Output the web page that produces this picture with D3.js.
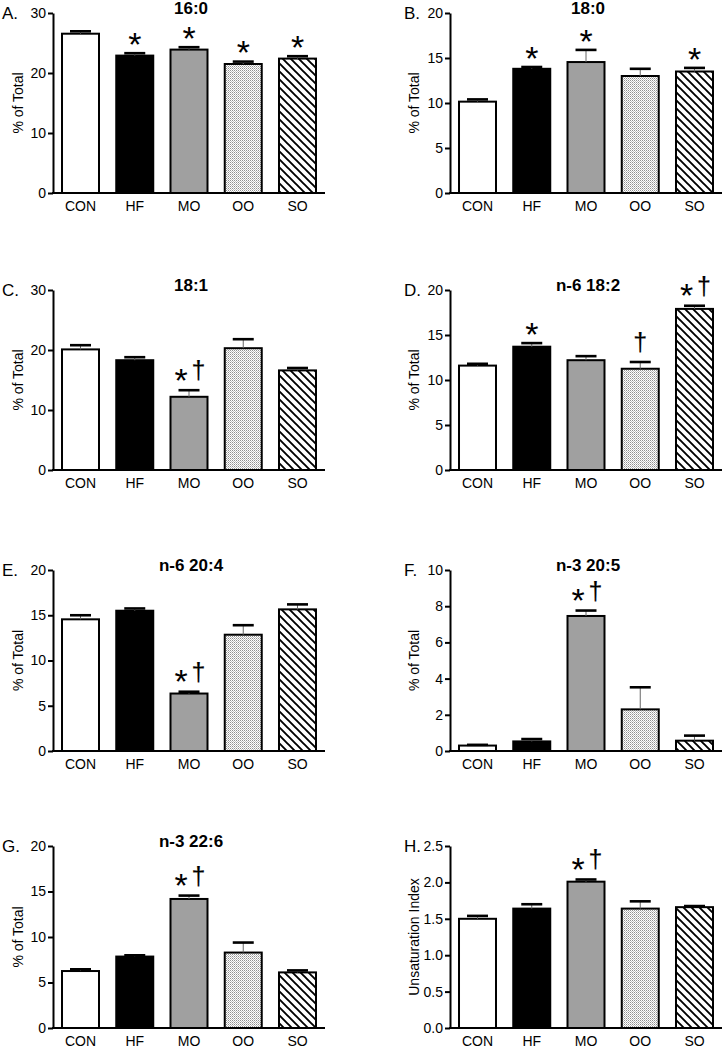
<!DOCTYPE html>
<html><head><meta charset="utf-8">
<script src="https://cdn.jsdelivr.net/npm/d3@7"></script>
<style>
body{margin:0;background:#fff}
svg text{font-family:"Liberation Sans",Arial,Helvetica,sans-serif;fill:#000}
</style>
</head><body>
<svg id="chart" width="724" height="1050"></svg>
<script>
// ---------------- data ----------------
const groups = ["CON", "HF", "MO", "OO", "SO"];
const panelLetters = ["A.", "B.", "C.", "D.", "E.", "F.", "G.", "H."];
const panelTitles = ["16:0", "18:0", "18:1", "n-6 18:2", "n-6 20:4", "n-3 20:5", "n-3 22:6", ""];
const yLabels = ["% of Total", "% of Total", "% of Total", "% of Total", "% of Total", "% of Total", "% of Total", "Unsaturation Index"];
const yMaxs = [30, 20, 30, 20, 20, 10, 20, 2.5];
const yTickSteps = [10, 5, 10, 5, 5, 2, 5, 0.5];

const mean16_0 = [26.55, 22.9, 23.9, 21.5, 22.4];
const sem16_0  = [0.4, 0.4, 0.4, 0.4, 0.4];
const sig16_0  = ["", "*", "*", "*", "*"];

const mean18_0 = [10.15, 13.8, 14.55, 13.0, 13.5];
const sem18_0  = [0.25, 0.2, 1.35, 0.8, 0.4];
const sig18_0  = ["", "*", "*", "", "*"];

const mean18_1 = [20.1, 18.3, 12.2, 20.3, 16.6];
const sem18_1  = [0.7, 0.5, 1.1, 1.5, 0.4];
const sig18_1  = ["", "", "*†", "", ""];

const mean18_2 = [11.6, 13.7, 12.2, 11.25, 17.9];
const sem18_2  = [0.2, 0.4, 0.45, 0.75, 0.35];
const sig18_2  = ["", "*", "", "†", "*†"];

const mean20_4 = [14.55, 15.5, 6.35, 12.85, 15.65];
const sem20_4  = [0.45, 0.25, 0.2, 1.05, 0.55];
const sig20_4  = ["", "", "*†", "", ""];

const mean20_5 = [0.3, 0.53, 7.46, 2.3, 0.57];
const sem20_5  = [0.04, 0.13, 0.3, 1.22, 0.28];
const sig20_5  = ["", "", "*†", "", ""];

const mean22_6 = [6.26, 7.85, 14.18, 8.29, 6.11];
const sem22_6  = [0.19, 0.14, 0.37, 1.1, 0.22];
const sig22_6  = ["", "", "*†", "", ""];

const meanUI = [1.50, 1.64, 2.01, 1.64, 1.66];
const semUI  = [0.04, 0.06, 0.03, 0.10, 0.015];
const sigUI  = ["", "", "*†", "", ""];

const panelMeans = [mean16_0, mean18_0, mean18_1, mean18_2, mean20_4, mean20_5, mean22_6, meanUI];
const panelSems  = [sem16_0, sem18_0, sem18_1, sem18_2, sem20_4, sem20_5, sem22_6, semUI];
const panelSigs  = [sig16_0, sig18_0, sig18_1, sig18_2, sig20_4, sig20_5, sig22_6, sigUI];

// ---------------- layout ----------------
const svg = d3.select("#chart");
const colAxisX = [53, 450];
const axisLen = 272;
const rowY = [[13, 193], [290, 470], [570, 751], [846, 1028]];

const defs = svg.append("defs");
const dots = defs.append("pattern").attr("id", "dots").attr("patternUnits", "userSpaceOnUse")
  .attr("width", 2).attr("height", 2);
dots.append("rect").attr("width", 2).attr("height", 2).attr("fill", "#fff");
dots.append("rect").attr("x", 0).attr("y", 0).attr("width", 1).attr("height", 1).attr("fill", "#909090");
dots.append("rect").attr("x", 1).attr("y", 1).attr("width", 1).attr("height", 1).attr("fill", "#c0c0c0");

const hatch = defs.append("pattern").attr("id", "hatch").attr("patternUnits", "userSpaceOnUse")
  .attr("width", 8).attr("height", 8);
hatch.append("rect").attr("width", 8).attr("height", 8).attr("fill", "#fff");
hatch.append("path").attr("d", "M-2,-2 L10,10 M-2,6 L2,10 M6,-2 L10,2")
  .attr("stroke", "#000").attr("stroke-width", 1.9);

const fills = ["#ffffff", "#000000", "#a0a0a0", "url(#dots)", "url(#hatch)"];

const starSize = 34, dagSize = 25;

function star(g, cx, cy) {
  g.append("text").attr("x", cx).attr("y", cy + 0.58 * starSize).attr("text-anchor", "middle")
    .attr("font-size", starSize).text("*");
}
function dagger(g, cx, bottomY) {
  g.append("text").attr("x", cx).attr("y", bottomY - 0.12 * dagSize).attr("text-anchor", "middle")
    .attr("font-size", dagSize).attr("stroke", "#000").attr("stroke-width", 0.15).text("†");
}

panelMeans.forEach((means, i) => {
  const col = i % 2, row = Math.floor(i / 2);
  const x0 = colAxisX[col];
  const [top, bottom] = rowY[row];
  const sems = panelSems[i], sigs = panelSigs[i];
  const g = svg.append("g");

  const x = d3.scaleBand().domain(groups).range([x0, x0 + axisLen])
    .paddingInner(0.318).paddingOuter(0.166);
  const y = d3.scaleLinear().domain([0, yMaxs[i]]).range([bottom, top]);

  // bars
  g.selectAll("rect.bar").data(groups).enter().append("rect")
    .attr("class", "bar")
    .attr("x", d => x(d))
    .attr("y", (d, j) => y(means[j]))
    .attr("width", x.bandwidth())
    .attr("height", (d, j) => y(0) - y(means[j]))
    .attr("fill", (d, j) => fills[j])
    .attr("stroke", "#000").attr("stroke-width", 2);

  // error bars + significance marks
  groups.forEach((d, j) => {
    const cx = x(d) + x.bandwidth() / 2;
    const yt = y(means[j] + sems[j]);
    g.append("line").attr("x1", cx).attr("x2", cx).attr("y1", y(means[j])).attr("y2", yt)
      .attr("stroke", "#666").attr("stroke-width", 1);
    g.append("line").attr("x1", cx - 10.5).attr("x2", cx + 10.5).attr("y1", yt).attr("y2", yt)
      .attr("stroke", "#000").attr("stroke-width", 2.6);

    const s = sigs[j];
    if (s === "*") {
      star(g, cx, yt - 17);
    } else if (s === "†") {
      dagger(g, cx, yt - 8);
    } else if (s === "*†") {
      star(g, cx - 8, yt - 18);
      dagger(g, cx + 9.5, yt - 8);
    }
  });

  // y axis
  const ticks = d3.range(0, yMaxs[i] + 1e-9, yTickSteps[i]);
  const yAxis = d3.axisLeft(y).tickValues(ticks).tickSize(5).tickSizeOuter(0).tickPadding(2)
    .tickFormat(yMaxs[i] < 5 ? d3.format(".1f") : d3.format("d"));
  const ya = g.append("g").attr("transform", `translate(${x0},0)`).call(yAxis);
  ya.select(".domain").attr("stroke", "#000").attr("stroke-width", 2);
  ya.selectAll(".tick line").attr("stroke", "#000").attr("stroke-width", 2);
  ya.selectAll(".tick text").attr("font-size", 14).attr("font-family", "Liberation Sans, Arial, sans-serif").attr("fill", "#000");

  // x axis
  const xAxis = d3.axisBottom(x).tickSize(0).tickSizeOuter(0).tickPadding(8);
  const xa = g.append("g").attr("transform", `translate(0,${bottom})`).call(xAxis);
  xa.select(".domain").attr("stroke", "#000").attr("stroke-width", 2)
    .attr("d", `M${x0 - 1},0H${x0 + axisLen}`);
  xa.selectAll(".tick text").attr("font-size", 14).attr("font-family", "Liberation Sans, Arial, sans-serif").attr("fill", "#000");

  // title
  if (panelTitles[i]) {
    g.append("text").attr("x", x0 + axisLen / 2 + 2).attr("y", top + 1).attr("text-anchor", "middle")
      .attr("font-size", 17).attr("font-weight", "bold").text(panelTitles[i]);
  }
  // letter
  g.append("text").attr("x", col ? 404 : 2).attr("y", top + 6).attr("font-size", 17).text(panelLetters[i]);
  // y label
  g.append("text").attr("transform", `translate(${col ? 414 : 18},${(top + bottom) / 2}) rotate(-90)`)
    .attr("text-anchor", "middle").attr("dominant-baseline", "central")
    .attr("font-size", 14).text(yLabels[i]);
});
</script>
</body></html>
